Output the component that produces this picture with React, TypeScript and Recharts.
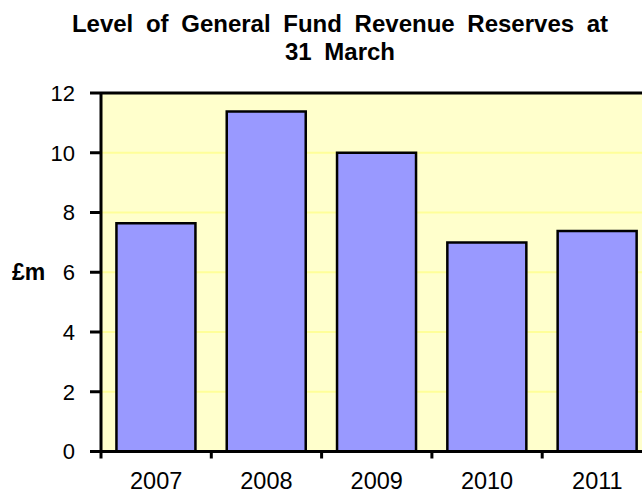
import React from 'react';
import { BarChart, Bar, XAxis, YAxis, CartesianGrid, ReferenceLine } from 'recharts';

const years = ['2007', '2008', '2009', '2010', '2011'];
const reserves = [7.64, 11.38, 10.0, 7.0, 7.38];
const yTicks = [0, 2, 4, 6, 8, 10, 12];
const titleLines = ['Level of General Fund Revenue Reserves at', '31 March'];
const yLabel = '£m';

const data = years.map((y, i) => ({ year: y, value: reserves[i] }));

if (typeof document !== 'undefined' && document.body) {
  document.body.style.margin = '0';
}

const PAGE_W = 642;
const PAGE_H = 490;
const W = 658;
const H = 490;
const M = { top: 93, right: 5.5, bottom: 0, left: 0 };
const Y_W = 101;
const FONT = '"Liberation Sans", Arial, sans-serif';
const HALF_BAND = (W - M.left - M.right - Y_W) / years.length / 2;

const XTick = (props: any) => {
  const { x, y, payload } = props;
  return (
    <g>
      <line x1={x - HALF_BAND} x2={x - HALF_BAND} y1={y} y2={y + 7} stroke="#000" strokeWidth={3} />
      <text x={x} y={y + 37} textAnchor="middle" fontFamily={FONT} fontSize={23.5} fill="#000">
        {payload.value}
      </text>
    </g>
  );
};

export default function App() {
  return (
    <div
      style={{
        position: 'relative',
        width: PAGE_W,
        height: PAGE_H,
        overflow: 'hidden',
        fontFamily: FONT,
        background: '#fff',
      }}
    >
      <div
        style={{
          position: 'absolute',
          left: 0,
          top: 0,
          width: 680,
          textAlign: 'center',
          fontWeight: 'bold',
          fontSize: 24,
          lineHeight: '28px',
          wordSpacing: 6,
          color: '#000',
          paddingTop: 10,
        }}
      >
        {titleLines.map((t) => (
          <div key={t}>{t}</div>
        ))}
      </div>
      <BarChart width={W} height={H} data={data} margin={M} barCategoryGap="14%">
        <CartesianGrid vertical={false} fill="#FFFFCC" stroke="#FFFF99" strokeWidth={2} />
        <XAxis
          dataKey="year"
          height={38.5}
          tickSize={0}
          tickMargin={0}
          tickLine={false}
          axisLine={{ stroke: '#000', strokeWidth: 3 }}
          tick={<XTick />}
          interval={0}
        />
        <YAxis
          width={Y_W}
          domain={[0, 12]}
          ticks={yTicks}
          interval={0}
          tickSize={11}
          tickMargin={15}
          tickLine={{ stroke: '#000', strokeWidth: 3 }}
          axisLine={{ stroke: '#000', strokeWidth: 3 }}
          tick={{ fill: '#000', fontSize: 22, fontFamily: FONT }}
          label={{
            value: yLabel,
            position: 'insideLeft',
            offset: 12,
            style: { fontWeight: 'bold', fontSize: 23, fill: '#000', fontFamily: FONT },
          }}
        />
        <ReferenceLine y={12} stroke="#000" strokeWidth={3} />
        <Bar dataKey="value" fill="#9999FF" stroke="#000" strokeWidth={2.5} isAnimationActive={false} />
      </BarChart>
    </div>
  );
}
